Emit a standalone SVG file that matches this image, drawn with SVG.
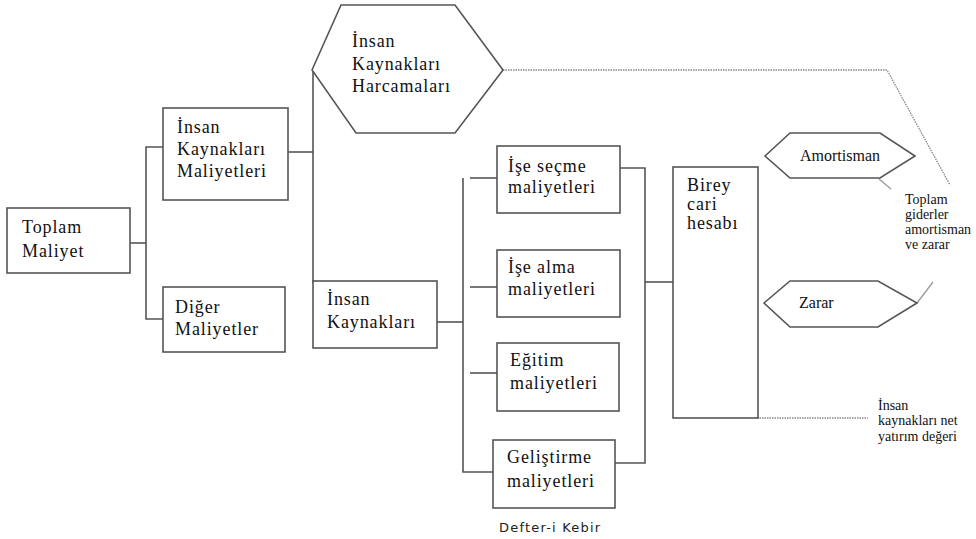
<svg xmlns="http://www.w3.org/2000/svg" width="976" height="539" viewBox="0 0 976 539">
<style>
.box{fill:#fff;stroke:#555;stroke-width:1.6}
.ln{fill:none;stroke:#555;stroke-width:1.6}
.dot{fill:none;stroke:#888;stroke-width:1.3;stroke-dasharray:1.5 1}
.thin{fill:none;stroke:#999;stroke-width:1.3}
.t{font-family:'Liberation Serif','Times New Roman',serif;font-size:18px;letter-spacing:0.9px;fill:#111}
.s{font-family:'Liberation Serif','Times New Roman',serif;font-size:16px;fill:#111}
.n{font-family:'Liberation Serif','Times New Roman',serif;font-size:14px;fill:#111}
.d{font-family:'DejaVu Sans','Liberation Sans',sans-serif;font-size:13px;letter-spacing:1.2px;fill:#222}
</style>
<rect width="976" height="539" fill="#fff"/>
<g id="connectors">
<polyline class="ln" points="130,243 146,243"/>
<polyline class="ln" points="163,147 146,147 146,319 163,319"/>
<polyline class="ln" points="288,152 313,152"/>
<polyline class="ln" points="313,70 313,283"/>
<polyline class="ln" points="437,322 463,322"/>
<polyline class="ln" points="463,178 463,472 493,472"/>
<polyline class="ln" points="470,178 497,178"/>
<polyline class="ln" points="470,287 497,287"/>
<polyline class="ln" points="470,373 497,373"/>
<polyline class="ln" points="615,168 645,168 645,463 615,463"/>
<polyline class="ln" points="645,282 673,282"/>
<polyline class="dot" points="503,70 887,70 950,185"/>
<polyline class="dot" points="757,418 868,418"/>
<polyline class="thin" points="879,179 891,189"/>
<polyline class="thin" points="917,303 933,282"/>
</g>
<g id="toplam-maliyet">
<rect class="box" x="7" y="208" width="123" height="65"/>
<text class="t" x="22" y="233">Toplam</text>
<text class="t" x="22" y="257">Maliyet</text>
</g>
<g id="ik-maliyetleri">
<rect class="box" x="163" y="108" width="125" height="92"/>
<text class="t" x="177" y="133">İnsan</text>
<text class="t" x="177" y="155">Kaynakları</text>
<text class="t" x="177" y="177">Maliyetleri</text>
</g>
<g id="diger-maliyetler">
<rect class="box" x="163" y="287" width="122" height="65"/>
<text class="t" x="175" y="313">Diğer</text>
<text class="t" x="175" y="335">Maliyetler</text>
</g>
<g id="ik-harcamalari">
<polygon class="box" points="312,70 341,5 455,5 503,70 455,133 356,133"/>
<text class="t" x="352" y="47">İnsan</text>
<text class="t" x="352" y="70">Kaynakları</text>
<text class="t" x="352" y="92">Harcamaları</text>
</g>
<g id="insan-kaynaklari">
<rect class="box" x="313" y="281" width="124" height="67"/>
<text class="t" x="327" y="305">İnsan</text>
<text class="t" x="327" y="328">Kaynakları</text>
</g>
<g id="ise-secme">
<rect class="box" x="497" y="146" width="123" height="67"/>
<text class="t" x="508" y="172">İşe seçme</text>
<text class="t" x="508" y="193">maliyetleri</text>
</g>
<g id="ise-alma">
<rect class="box" x="497" y="250" width="123" height="67"/>
<text class="t" x="508" y="273">İşe alma</text>
<text class="t" x="508" y="295">maliyetleri</text>
</g>
<g id="egitim">
<rect class="box" x="497" y="343" width="122" height="68"/>
<text class="t" x="510" y="366">Eğitim</text>
<text class="t" x="510" y="389">maliyetleri</text>
</g>
<g id="gelistirme">
<rect class="box" x="493" y="440" width="122" height="68"/>
<text class="t" x="507" y="463">Geliştirme</text>
<text class="t" x="507" y="487">maliyetleri</text>
</g>
<g id="birey">
<rect class="box" x="673" y="167" width="85" height="251"/>
<text class="t" x="687" y="191">Birey</text>
<text class="t" x="687" y="210">cari</text>
<text class="t" x="687" y="229">hesabı</text>
</g>
<g id="amortisman">
<polygon class="box" points="765,156 790,133 880,133 915,156 880,178 790,178"/>
<text class="s" x="800" y="161">Amortisman</text>
</g>
<g id="zarar">
<polygon class="box" points="764,303 790,281 878,281 917,303 878,327 790,327"/>
<text class="s" x="799" y="308">Zarar</text>
</g>
<g id="toplam-giderler">
<text class="n" x="905" y="204">Toplam</text>
<text class="n" x="905" y="219">giderler</text>
<text class="n" x="905" y="234">amortisman</text>
<text class="n" x="905" y="249">ve zarar</text>
</g>
<g id="net-yatirim">
<text class="n" x="878" y="410">İnsan</text>
<text class="n" x="878" y="425">kaynakları net</text>
<text class="n" x="878" y="441">yatırım değeri</text>
</g>
<g id="caption">
<text class="d" x="499" y="532">Defter-i Kebir</text>
</g>
</svg>
